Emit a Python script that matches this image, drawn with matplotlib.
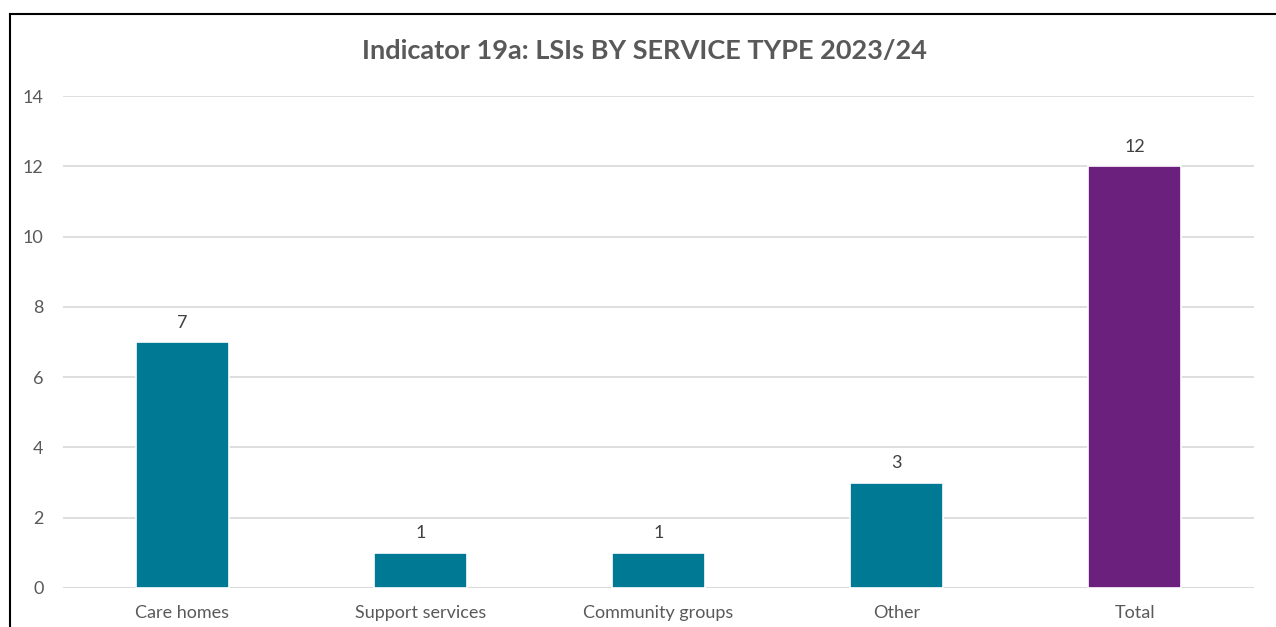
import matplotlib
matplotlib.use("Agg")
import matplotlib.pyplot as plt
from matplotlib.lines import Line2D

categories = ["Care homes", "Support services", "Community groups", "Other", "Total"]
values = [7, 1, 1, 3, 12]
bar_colors = ["#007A94", "#007A94", "#007A94", "#007A94", "#6C207E"]
y_ticks = [0, 2, 4, 6, 8, 10, 12, 14]
title = "Indicator 19a: LSIs BY SERVICE TYPE 2023/24"

plt.rcParams["font.family"] = ["Lato", "DejaVu Sans"]
text_color = "#595959"

W, H = 1276, 627
fig = plt.figure(figsize=(W / 100, H / 100), dpi=100)
left, right = 63 / W, 1254 / W
bottom, top = 1 - 588 / H, 1 - 96 / H
ax = fig.add_axes([left, bottom, right - left, top - bottom])

x = list(range(len(categories)))
bars = ax.bar(x, values, width=0.39, color=bar_colors, edgecolor="white",
              linewidth=1.2, zorder=3)
for xi, v in zip(x, values):
    ax.annotate(str(v), (xi, v), xytext=(0, 14), textcoords="offset points",
                ha="center", va="center", fontsize=13, color="#404040")

ax.set_xlim(-0.5, len(categories) - 0.5)
ax.set_ylim(0, 14)
ax.set_yticks(y_ticks)
ax.set_xticks(x)
ax.set_xticklabels(categories)
ax.tick_params(axis="both", length=0, labelsize=13, labelcolor=text_color)
ax.tick_params(axis="y", pad=14)
ax.tick_params(axis="x", pad=12)
ax.grid(axis="y", color="#D9D9D9", linewidth=1.2, zorder=0)
for s in ax.spines.values():
    s.set_visible(False)
ax.axhline(0, color="#D9D9D9", linewidth=1.2, zorder=2)

fig.text(645 / W, 1 - 51 / H, title, ha="center", va="center",
         fontsize=19.5, fontweight="bold", color=text_color)

# chart frame: top and left edges
fig.add_artist(Line2D([10 / W, 1.0], [1 - 14 / H, 1 - 14 / H],
                      transform=fig.transFigure, color="black", linewidth=1.5))
fig.add_artist(Line2D([10 / W, 10 / W], [0, 1 - 14 / H],
                      transform=fig.transFigure, color="black", linewidth=1.5))

fig.savefig("out.png", dpi=100, facecolor="white")
